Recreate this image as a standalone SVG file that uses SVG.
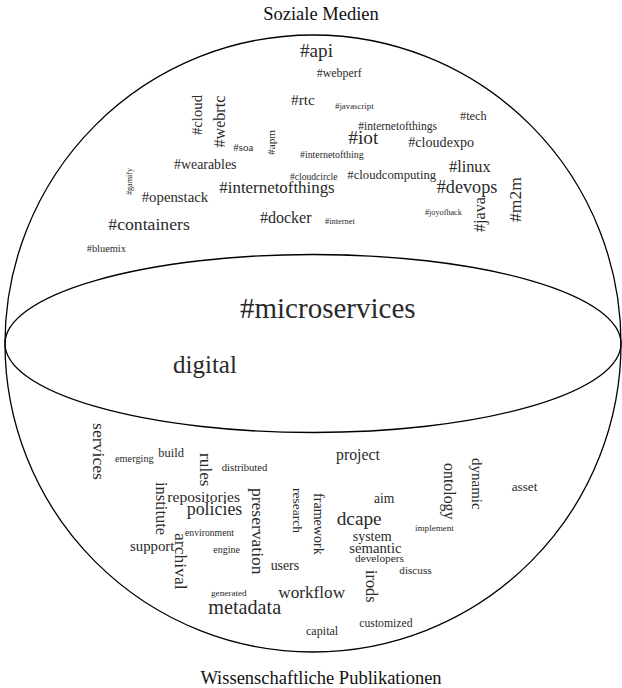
<svg xmlns="http://www.w3.org/2000/svg" width="622" height="688" viewBox="0 0 622 688" font-family="'Liberation Serif', 'Times New Roman', Times, serif">
<style>
text{font-family:'Liberation Serif','Times New Roman',Times,serif;fill:#2a2a2a}
.ln{fill:none;stroke:#000;stroke-width:1.3}
.t{font-size:18.5px;fill:#111}
</style>
<rect width="622" height="688" fill="#fff"/>
<g id="sphere">
<ellipse class="ln" cx="313" cy="343.5" rx="308" ry="308.5"/>
<ellipse class="ln" cx="313" cy="343.5" rx="308" ry="89"/>
</g>
<g id="titles">
<text class="t" x="321" y="20" text-anchor="middle">Soziale Medien</text>
<text class="t" x="321" y="684" text-anchor="middle">Wissenschaftliche Publikationen</text>
</g>
<g id="social">
<text x="300" y="57" font-size="19.2">#api</text>
<text x="316.7" y="76.7" font-size="11.9">#webperf</text>
<text x="291" y="105" font-size="15.4">#rtc</text>
<text x="335" y="109.3" font-size="8.8">#javascript</text>
<text x="460" y="120" font-size="12.3">#tech</text>
<text x="358.3" y="130" font-size="11.5">#internetofthings</text>
<text x="348.3" y="144.3" font-size="19.3">#iot</text>
<text x="408.3" y="146.7" font-size="14.1">#cloudexpo</text>
<text x="300" y="158.3" font-size="9.9">#internetofthing</text>
<text x="449" y="171.7" font-size="16.3">#linux</text>
<text x="290" y="180" font-size="9.6">#cloudcircle</text>
<text x="347.3" y="179.3" font-size="12.7">#cloudcomputing</text>
<text x="436.7" y="192.7" font-size="18.2">#devops</text>
<text x="425" y="215" font-size="8.2">#joyofhack</text>
<text x="325" y="224" font-size="8.4">#internet</text>
<text x="260" y="223.3" font-size="16">#docker</text>
<text x="233.3" y="150.7" font-size="10.9">#soa</text>
<text x="174" y="169.3" font-size="13.9">#wearables</text>
<text x="141.7" y="201.7" font-size="14.8">#openstack</text>
<text x="219.3" y="193.3" font-size="16.9">#internetofthings</text>
<text x="108.3" y="230" font-size="17.7">#containers</text>
<text x="86.7" y="251.7" font-size="10.4">#bluemix</text>
<text transform="translate(202,135) rotate(-90)" font-size="14.7">#cloud</text>
<text transform="translate(225,147.5) rotate(-90)" font-size="16.1">#webrtc</text>
<text transform="translate(274.5,155) rotate(-90)" font-size="11.3">#apm</text>
<text transform="translate(131.5,195) rotate(-90)" font-size="8.1">#gamify</text>
<text transform="translate(485,232) rotate(-90)" font-size="16.2">#java</text>
<text transform="translate(521,222) rotate(-90)" font-size="17.6">#m2m</text>
</g>
<g id="shared">
<text x="240" y="318" font-size="29">#microservices</text>
<text x="173" y="373" font-size="25">digital</text>
</g>
<g id="science">
<text transform="translate(92.5,423) rotate(90)" font-size="17.7">services</text>
<text x="115" y="461.7" font-size="10.3">emerging</text>
<text x="158.3" y="457.3" font-size="12.5">build</text>
<text transform="translate(200,453) rotate(90)" font-size="17.3">rules</text>
<text x="221.7" y="470.7" font-size="10.7">distributed</text>
<text transform="translate(155.5,482) rotate(90)" font-size="16.5">institute</text>
<text x="167.3" y="501.7" font-size="15.6">repositories</text>
<text x="186.7" y="515" font-size="17.9">policies</text>
<text transform="translate(251.8,488) rotate(90)" font-size="17.5">preservation</text>
<text transform="translate(293,488) rotate(90)" font-size="13.5">research</text>
<text x="185" y="535.7" font-size="9.7">environment</text>
<text transform="translate(175,533) rotate(90)" font-size="17.6">archival</text>
<text x="130" y="551.3" font-size="14.8">support</text>
<text x="213.3" y="552.7" font-size="10">engine</text>
<text x="270.7" y="570" font-size="13.8">users</text>
<text x="211" y="596" font-size="9.2">generated</text>
<text x="208.3" y="614" font-size="20.2">metadata</text>
<text x="278.3" y="598.3" font-size="17.2">workflow</text>
<text x="306" y="635" font-size="12.1">capital</text>
<text x="336" y="460" font-size="15.8">project</text>
<text transform="translate(314,493) rotate(90)" font-size="14.1">framework</text>
<text x="374" y="503.3" font-size="13.6">aim</text>
<text x="336.7" y="525" font-size="19.3">dcape</text>
<text transform="translate(443.5,463) rotate(90)" font-size="15.9">ontology</text>
<text transform="translate(471.5,458) rotate(90)" font-size="15">dynamic</text>
<text x="511.7" y="490.7" font-size="13.2">asset</text>
<text x="415" y="531" font-size="9.1">implement</text>
<text x="352.7" y="541" font-size="14">system</text>
<text x="349.3" y="553.3" font-size="14.7">semantic</text>
<text x="355" y="561.7" font-size="11.3">developers</text>
<text x="399.3" y="574.3" font-size="11.2">discuss</text>
<text transform="translate(366,570) rotate(90)" font-size="16.3">irods</text>
<text x="359.3" y="627.3" font-size="11.7">customized</text>
</g>
</svg>
